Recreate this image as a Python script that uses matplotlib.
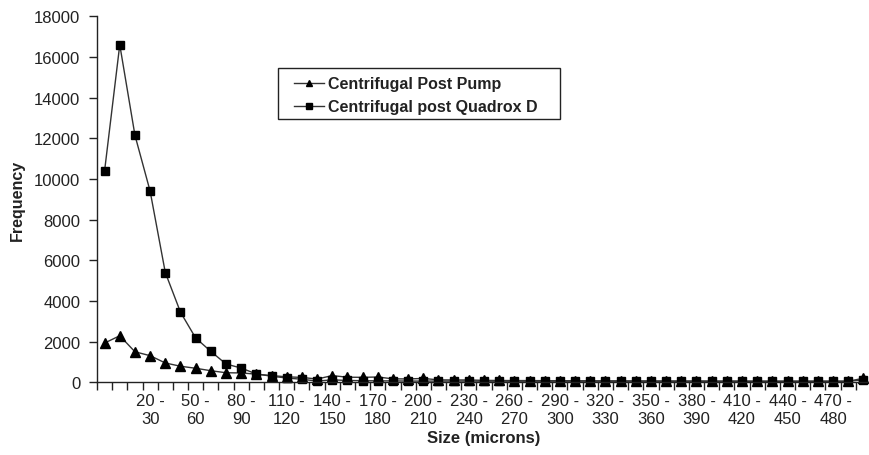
import matplotlib
matplotlib.use("Agg")
import matplotlib.pyplot as plt
from matplotlib.patches import Rectangle
import numpy as np

# Size bins (first bin has no label in the source)
categories = [""] + [f"{a} - {a+10}" for a in range(0, 500, 10)]

pump = [1930, 2290, 1500, 1310, 950, 790, 690, 570, 470, 460,
        400, 330, 270, 240, 160, 330, 250, 245, 260, 170,
        165, 190, 120, 115, 115, 95, 90, 85, 85, 80,
        80, 75, 75, 70, 70, 65, 65, 60, 60, 60,
        55, 55, 55, 50, 50, 50, 50, 50, 50, 50, 200]

quadrox = [10400, 16600, 12150, 9400, 5400, 3450, 2180, 1520, 900, 700,
           410, 300, 210, 150, 60, 120, 90, 80, 70, 70,
           60, 60, 60, 60, 60, 55, 55, 55, 55, 55,
           55, 55, 55, 55, 55, 55, 55, 55, 55, 55,
           55, 55, 55, 55, 55, 55, 55, 55, 55, 55, 120]

yticks = list(range(0, 18001, 2000))

plt.rcParams['font.family'] = ['Liberation Sans', 'DejaVu Sans']

W, H = 870, 456
fig = plt.figure(figsize=(W / 100, H / 100), dpi=100)
left_px, right_px, top_px, bottom_px = 97, 871, 17.3, 383.3
ax = fig.add_axes([left_px / W, 1 - bottom_px / H,
                   (right_px - left_px) / W, (bottom_px - top_px) / H])

x = np.arange(len(categories))
ax.plot(x, pump, color='#333333', lw=1.0, marker='^', ms=6.5,
        mfc='black', mec='black', label='Centrifugal Post Pump', clip_on=False)
ax.plot(x, quadrox, color='#333333', lw=1.0, marker='s', ms=5.5,
        mfc='black', mec='black', label='Centrifugal post Quadrox D', clip_on=False)

ax.set_xlim(-0.5, len(categories) - 0.5)
ax.set_ylim(0, 18000)
ax.set_yticks(yticks)
ax.set_yticklabels([str(v) for v in yticks])

# category boundary ticks
ax.set_xticks(np.arange(len(categories) + 1) - 0.5)
ax.set_xticklabels([])
lab_idx = list(range(0, len(categories), 3))
ax.set_xticks(lab_idx, minor=True)
ax.set_xticklabels([categories[i].replace(" - ", " -\n") for i in lab_idx],
                   minor=True, fontsize=12, color='#222222', linespacing=1.25)
ax.tick_params(axis='x', which='major', direction='out', length=6, width=1, color='#222222')
ax.tick_params(axis='x', which='minor', length=0, pad=8)
ax.tick_params(axis='y', direction='out', length=6, width=1, color='#222222',
               labelsize=12, labelcolor='#222222', pad=6)

for s in ['top', 'right']:
    ax.spines[s].set_visible(False)
for s in ['left', 'bottom']:
    ax.spines[s].set_color('#222222')
    ax.spines[s].set_linewidth(1.0)

ax.set_ylabel('Frequency', fontsize=11.5, fontweight='bold', color='#222222')
ax.yaxis.set_label_coords(-72 / (right_px - left_px), 0.5)
ax.set_xlabel('Size (microns)', fontsize=12, fontweight='bold', color='#222222')
ax.xaxis.set_label_coords(0.5, -(431 - bottom_px) / (bottom_px - top_px))

leg = fig.legend(*ax.get_legend_handles_labels(), loc='upper left',
                 bbox_to_anchor=(294 / W, 1 - 77.5 / H),
                 frameon=False, prop={'weight': 'bold', 'size': 11.5}, handlelength=1.9,
                 borderpad=0, labelspacing=0.5, handletextpad=0.25, borderaxespad=0)
for line in leg.get_lines():
    line.set_markersize(4.5)
for t in leg.get_texts():
    t.set_color('#222222')
fig.patches.append(Rectangle((278 / W, 1 - 120 / H), (560 - 278) / W, (120 - 69) / H,
                             transform=fig.transFigure, fill=False,
                             edgecolor='#222222', linewidth=1.0))

fig.savefig('out.png', dpi=100)
